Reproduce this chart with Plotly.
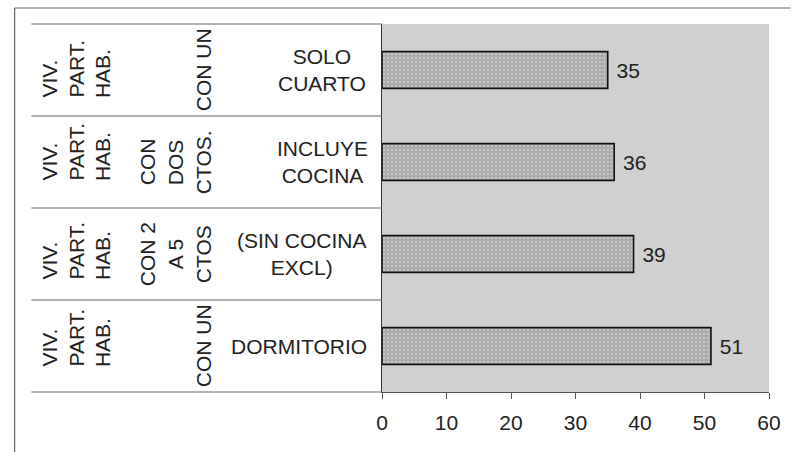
import plotly.graph_objects as go

# ---- data ----
categories = ["SOLO CUARTO", "INCLUYE COCINA", "SIN COCINA EXCL", "DORMITORIO"]
values = [35, 36, 39, 51]
col1_lines = [["VIV.", "PART.", "HAB."]] * 4
col2_lines = [["", "", "CON UN"], ["CON", "DOS", "CTOS."], ["CON 2", "A 5", "CTOS"], ["", "", "CON UN"]]
col3_text = ["SOLO<br>CUARTO", "INCLUYE<br>COCINA", "(SIN COCINA<br>EXCL)", "DORMITORIO"]
x_ticks = [0, 10, 20, 30, 40, 50, 60]

# ---- layout constants (pixels) ----
W, H = 793, 452
L, R, T, B = 382, 17, 24, 60
PW, PH = W - L - R, H - T - B
FONT = "Liberation Sans, Arial, sans-serif"
FS = 21


def px_x(p):
    return (p - L) / PW


def px_y(p):
    return 1 - (p - T) / PH


fig = go.Figure()
fig.add_trace(go.Bar(
    x=values, y=categories, orientation="h",
    marker=dict(color="#b4b4b4", line=dict(color="#111", width=1.6),
                pattern=dict(shape=".", fgcolor="#ececec", bgcolor="#adadad", size=4, solidity=0.2)),
    text=[" " + str(v) for v in values], textposition="outside",
    textfont=dict(size=FS, color="#222", family=FONT),
    cliponaxis=False,
))

n = len(categories)
row_h = PH / n
col1_x = [42.5, 70, 97.5]
col2_x = [143, 171.5, 200]
col1_bottom_off = [16, 25, 18, 23]
col3_x = [321, 321, 301, 298]

ann = []
for i, cat in enumerate(categories):
    top = T + i * row_h
    bottom = top + row_h
    for j, line in enumerate(col1_lines[i]):
        ann.append(dict(text=line, textangle=-90, xref="paper", yref="paper",
                        x=px_x(col1_x[j]), y=px_y(bottom - col1_bottom_off[i]),
                        xanchor="center", yanchor="bottom", showarrow=False,
                        font=dict(size=FS, color="#222", family=FONT)))
    for j, line in enumerate(col2_lines[i]):
        if not line:
            continue
        ann.append(dict(text=line, textangle=-90, xref="paper", yref="y",
                        x=px_x(col2_x[j]), y=cat,
                        xanchor="center", yanchor="middle", showarrow=False,
                        font=dict(size=FS, color="#222", family=FONT)))
    ann.append(dict(text=col3_text[i], xref="paper", yref="y",
                    x=px_x(col3_x[i]), y=cat, xanchor="center", yanchor="middle",
                    showarrow=False, align="center",
                    font=dict(size=FS, color="#222", family=FONT)))

shapes = []
for k in range(n + 1):
    yy = k / n
    shapes.append(dict(type="line", xref="paper", yref="paper",
                       x0=px_x(25), x1=0, y0=yy, y1=yy,
                       line=dict(color="#666", width=1.2)))
# outer frame (top and left edges)
shapes.append(dict(type="line", xref="paper", yref="paper",
                   x0=px_x(8), x1=px_x(W + 5), y0=px_y(8), y1=px_y(8),
                   line=dict(color="#666", width=1.2)))
shapes.append(dict(type="line", xref="paper", yref="paper",
                   x0=px_x(8), x1=px_x(8), y0=px_y(8), y1=px_y(H + 5),
                   line=dict(color="#666", width=1.2)))

fig.update_layout(
    width=W, height=H,
    margin=dict(l=L, r=R, t=T, b=B),
    paper_bgcolor="white", plot_bgcolor="#d0d0d0",
    showlegend=False, bargap=0.6,
    font=dict(family=FONT, size=FS, color="#222"),
    annotations=ann, shapes=shapes,
    xaxis=dict(range=[0, 60], tickvals=x_ticks, ticks="outside", ticklen=6,
               tickcolor="#555", showgrid=False, zeroline=False, showline=True,
               linecolor="#555", linewidth=1.2, tickfont=dict(size=FS, color="#222"),
               ticklabelstandoff=6, fixedrange=True),
    yaxis=dict(categoryorder="array", categoryarray=categories[::-1],
               showticklabels=False, ticks="", showgrid=False, zeroline=False,
               showline=True, linecolor="#333", linewidth=1.2, fixedrange=True),
)

fig.write_html("out.html", config={"displayModeBar": False},
               post_script="document.body.style.margin='0';document.body.style.overflow='hidden';")
